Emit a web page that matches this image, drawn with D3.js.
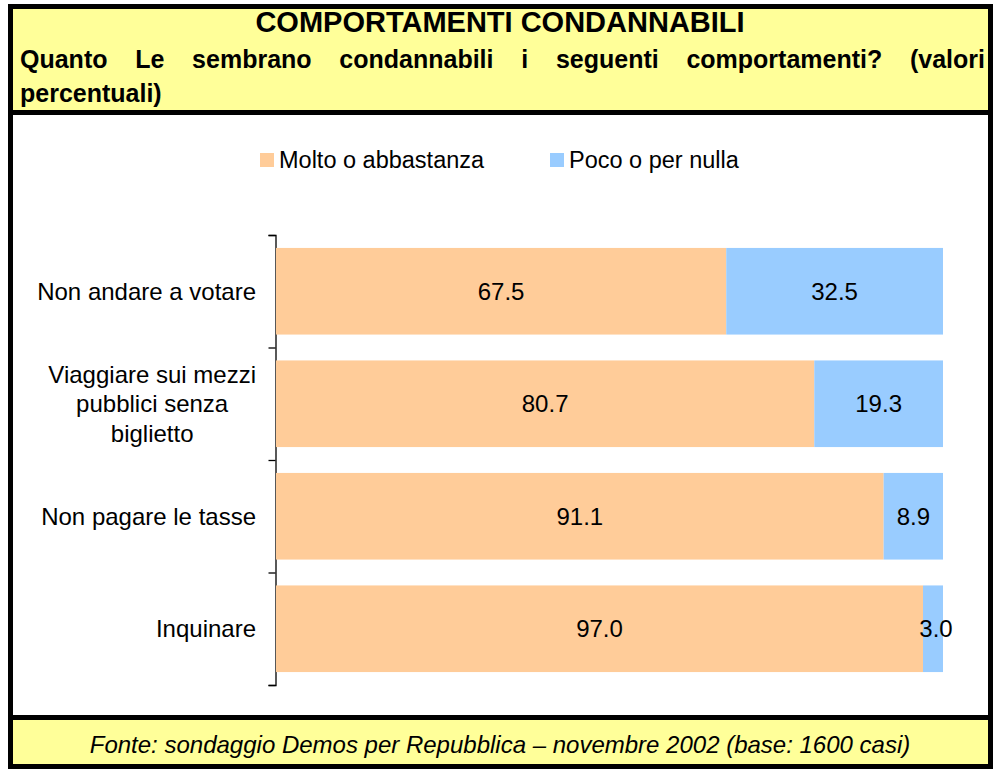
<!DOCTYPE html>
<html lang="it">
<head>
  <meta charset="utf-8">
  <title>Comportamenti condannabili</title>
  <style>
    html, body { margin:0; padding:0; background:#fff; overflow:hidden; }
    svg { display:block; font-family:"Liberation Sans", Arial, sans-serif; }
  </style>
</head>
<body>
  <svg id="chart" width="993" height="769"></svg>
  <script src="https://d3js.org/d3.v7.min.js"></script>
  <script>
    // dati
    const categories = ["Non andare a votare", "Viaggiare sui mezzi pubblici senza biglietto", "Non pagare le tasse", "Inquinare"];
    const categoryLines = [["Non andare a votare"], ["Viaggiare sui mezzi", "pubblici senza", "biglietto"], ["Non pagare le tasse"], ["Inquinare"]];
    const molto = [67.5, 80.7, 91.1, 97.0];
    const poco = [32.5, 19.3, 8.9, 3.0];
    const seriesNames = ["Molto o abbastanza", "Poco o per nulla"];
    const seriesColors = ["#FFCC99", "#99CCFF"];
    const title = "COMPORTAMENTI CONDANNABILI";
    const subtitle = ["Quanto Le sembrano condannabili i seguenti comportamenti? (valori", "percentuali)"];
    const source = "Fonte: sondaggio Demos per Repubblica \u2013 novembre 2002 (base: 1600 casi)";

    const svg = d3.select("#chart");

    // cornice e riquadri gialli
    svg.append("rect").attr("x", 10.5).attr("y", 6.5).attr("width", 980).attr("height", 760)
      .attr("fill", "#fff").attr("stroke", "#000").attr("stroke-width", 5);
    svg.append("rect").attr("x", 13).attr("y", 9).attr("width", 975).attr("height", 101).attr("fill", "#FFFF99");
    svg.append("rect").attr("x", 13).attr("y", 110).attr("width", 975).attr("height", 5).attr("fill", "#000");
    svg.append("rect").attr("x", 13).attr("y", 720).attr("width", 975).attr("height", 44).attr("fill", "#FFFF99");
    svg.append("rect").attr("x", 13).attr("y", 715).attr("width", 975).attr("height", 5).attr("fill", "#000");

    // titolo
    svg.append("text").attr("x", 500).attr("y", 32).attr("text-anchor", "middle")
      .attr("font-weight", "bold").attr("font-size", 29).text(title);

    // sottotitolo giustificato
    function justify(line, x0, x1, y) {
      const words = line.split(" ");
      const g = svg.append("g").attr("font-weight", "bold").attr("font-size", 25);
      const nodes = words.map(w => g.append("text").attr("y", y).text(w));
      const widths = nodes.map(n => n.node().getComputedTextLength());
      const gap = (x1 - x0 - d3.sum(widths)) / (words.length - 1);
      let x = x0;
      nodes.forEach((n, i) => { n.attr("x", x); x += widths[i] + gap; });
    }
    justify(subtitle[0], 20, 985, 68);
    svg.append("text").attr("x", 20).attr("y", 102).attr("font-weight", "bold")
      .attr("font-size", 25).text(subtitle[1]);

    // scale
    const x = d3.scaleLinear().domain([0, 100]).range([276, 943]);
    const y = d3.scaleBand().domain(categories).range([235, 685]).paddingInner(0.23).paddingOuter(0.115);
    const yTicks = d3.scaleLinear().domain([0, categories.length]).range([235, 685]);

    // asse verticale con tacche tra le categorie
    svg.append("g").attr("transform", "translate(275.5,0)")
      .call(d3.axisLeft(yTicks).tickValues(d3.range(categories.length + 1)).tickSize(7).tickFormat(""))
      .call(g => g.select(".domain").attr("stroke", "#000").attr("stroke-width", 1.3))
      .call(g => g.selectAll(".tick line").attr("stroke", "#000").attr("stroke-width", 1.3));

    // barre impilate
    const rows = categories.map((c, i) => ({ cat: c, vals: [molto[i], poco[i]] }));
    rows.forEach(r => {
      let acc = 0;
      r.vals.forEach((v, j) => {
        const x0 = x(acc), x1 = x(acc + v);
        svg.append("rect").attr("x", x0).attr("y", y(r.cat))
          .attr("width", x1 - x0).attr("height", y.bandwidth()).attr("fill", seriesColors[j]);
        svg.append("text").attr("x", (x0 + x1) / 2 + (v < 5 ? 3 : 0))
          .attr("y", y(r.cat) + y.bandwidth() / 2).attr("dy", "0.36em")
          .attr("text-anchor", "middle").attr("font-size", 24).text(v.toFixed(1));
        acc += v;
      });
    });

    // etichette delle categorie
    categories.forEach((c, i) => {
      const lines = categoryLines[i];
      const g = svg.append("g").attr("font-size", 24);
      const nodes = lines.map(l => g.append("text").attr("text-anchor", "middle").text(l));
      const maxW = d3.max(nodes, n => n.node().getComputedTextLength());
      const cx = 256 - maxW / 2;
      const cy = y(c) + y.bandwidth() / 2;
      const lh = 29.5;
      nodes.forEach((n, k) => n.attr("x", cx).attr("y", cy + (k - (lines.length - 1) / 2) * lh).attr("dy", "0.36em"));
    });

    // legenda
    const legendX = [260, 550];
    seriesNames.forEach((s, i) => {
      svg.append("rect").attr("x", legendX[i]).attr("y", 153).attr("width", 14).attr("height", 14).attr("fill", seriesColors[i]);
      svg.append("text").attr("x", legendX[i] + 19).attr("y", 160).attr("dy", "0.36em")
        .attr("font-size", 23.5).text(s);
    });

    // fonte
    svg.append("text").attr("x", 500).attr("y", 744).attr("dy", "0.36em").attr("text-anchor", "middle")
      .attr("font-style", "italic").attr("font-size", 24).text(source);
  </script>
</body>
</html>
